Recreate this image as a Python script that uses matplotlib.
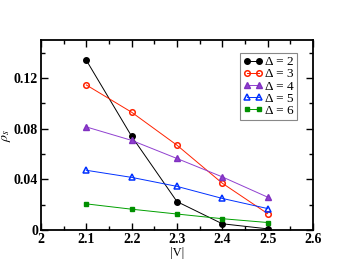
import numpy as np
from matplotlib import pyplot as plt
from matplotlib.ticker import MultipleLocator

V = [2.1, 2.2, 2.3, 2.4, 2.5]
rho_d2 = [0.134, 0.074, 0.0225, 0.005, 0.001]
rho_d3 = [0.1145, 0.093, 0.067, 0.037, 0.013]
rho_d4 = [0.0814, 0.0708, 0.0565, 0.042, 0.026]
rho_d5 = [0.0472, 0.0416, 0.0345, 0.025, 0.017]
rho_d6 = [0.0207, 0.0165, 0.0127, 0.009, 0.006]
labels = ["Δ = 2", "Δ = 3", "Δ = 4", "Δ = 5", "Δ = 6"]
xticks = [2, 2.1, 2.2, 2.3, 2.4, 2.5, 2.6]
xticklabels = ["2", "2.1", "2.2", "2.3", "2.4", "2.5", "2.6"]
yticks = [0, 0.04, 0.08, 0.12]
yticklabels = ["0", "0.04", "0.08", "0.12"]

plt.rcParams['font.family'] = ['Liberation Serif', 'DejaVu Serif']
plt.rcParams['mathtext.fontset'] = 'stix'

fig = plt.figure(figsize=(3.52, 2.72), dpi=100)
ax = fig.add_axes([0.1165, 0.154, 0.7725, 0.699])

ms = 4
ax.plot(V, rho_d2, color="k", lw=0.7, marker="o", ms=ms, label=labels[0])
ax.plot(V, rho_d3, color="#ff2200", lw=0.7, marker="o", ms=ms, mfc="none", mew=1.1, label=labels[1])
ax.plot(V, rho_d4, color="#9040d0", lw=0.7, marker="^", ms=ms, label=labels[2], mec="#8030c0")
ax.plot(V, rho_d5, color="#0030ff", lw=0.7, marker="^", ms=ms, mfc="none", mew=1.1, label=labels[3])
ax.plot(V, rho_d6, color="#00a000", lw=0.7, marker="s", ms=3.5, label=labels[4], mec="#009000", mfc="#009000")

ax.set_xlim(2, 2.6)
ax.set_ylim(0, 0.15)
ax.xaxis.set_minor_locator(MultipleLocator(0.05))
ax.yaxis.set_minor_locator(MultipleLocator(0.02))
ax.set_xticks(xticks)
ax.set_xticklabels(xticklabels)
ax.set_yticks(yticks)
ax.set_yticklabels(yticklabels)
ax.tick_params(which="both", direction="in", top=True, right=True, width=1)
ax.tick_params(which="major", length=5, labelsize=10, pad=2)
ax.tick_params(which="minor", length=3)
for t in ax.get_xticklabels() + ax.get_yticklabels():
    t.set_fontweight("bold")
for s in ax.spines.values():
    s.set_linewidth(1.3)

ax.set_xlabel("|V|", fontsize=9, labelpad=1)
ax.set_ylabel(r"$\rho_s$", fontsize=10, labelpad=1)

leg = ax.legend(loc="upper right", bbox_to_anchor=(0.94, 0.93), fontsize=9.5, handlelength=1.5,
                handletextpad=0.2, labelspacing=0.0, borderpad=0.2, borderaxespad=0,
                fancybox=False, framealpha=1, edgecolor="#888888", numpoints=2)
leg.get_frame().set_linewidth(0.8)

fig.savefig("out.png", dpi=100)
